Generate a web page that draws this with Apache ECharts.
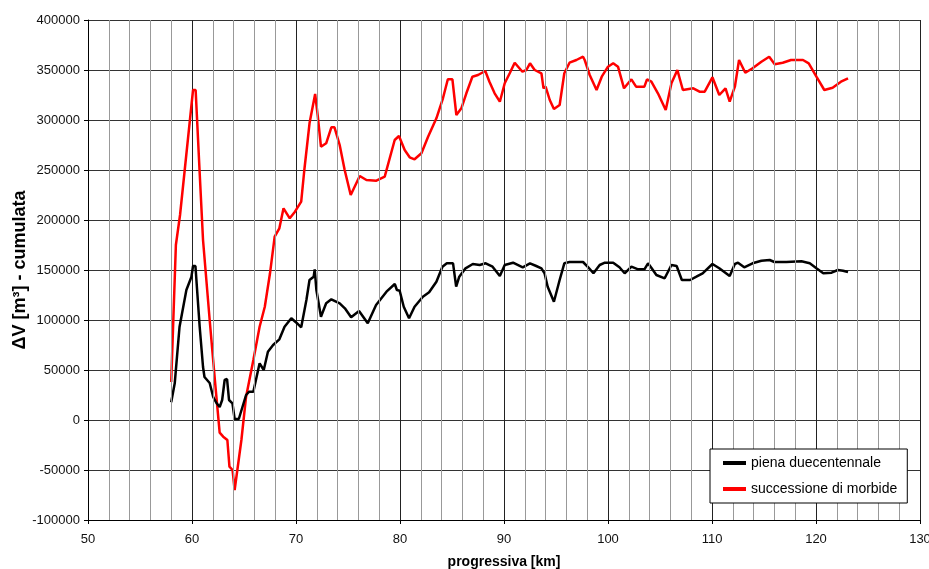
<!DOCTYPE html>
<html>
<head>
<meta charset="utf-8">
<script src="https://cdn.jsdelivr.net/npm/echarts@6/dist/echarts.min.js"></script>
<style>html,body{margin:0;padding:0;background:#fff;}#c{width:929px;height:569px;}</style>
</head>
<body>
<div id="c"></div>
<script>
var seriesNames = ['piena duecentennale', 'successione di morbide'];
var xTitle = 'progressiva [km]';
var yTitle = '\u0394V [m\u00B3] - cumulata';

var kmBlack = [58.0,58.34,58.8,59.46,59.94,60.1,60.33,60.74,61.06,61.2,61.7,62.04,62.35,62.66,62.9,63.14,63.37,63.56,63.89,64.1,64.5,65.2,65.5,65.9,66.5,66.9,67.3,67.8,68.4,68.9,69.55,70.04,70.5,71.0,71.3,71.7,71.8,71.96,72.4,72.9,73.4,74.2,74.7,75.3,76.06,76.9,77.7,78.7,79.5,79.7,79.97,80.36,80.87,81.4,82.2,82.8,83.5,84.08,84.5,85.1,85.4,85.7,86.3,87.0,87.66,88.24,88.9,89.6,90.07,90.87,91.8,92.5,93.1,93.6,93.9,94.2,94.8,95.35,95.8,96.3,97.6,98.1,98.6,99.2,99.7,100.5,101.1,101.6,102.25,102.9,103.5,103.85,104.2,104.65,105.45,106.1,106.6,107.1,107.9,108.5,109.1,110.04,110.7,111.7,112.2,112.5,113.1,113.9,114.75,115.55,116.0,117.15,118.6,119.4,120.04,120.7,121.5,122.1,122.6,123.08];
var valBlack = [17700,36700,93000,130000,143000,154000,154000,93000,53000,43000,37000,23000,17000,13000,20000,40000,41000,20000,16700,1000,1000,25000,28300,28300,56700,50000,68300,75000,80700,93300,101700,97300,92700,120000,140000,143300,150700,130000,103300,116700,120700,116700,111700,102700,109000,96700,115000,128300,136000,130000,129300,113300,101700,113300,123300,127700,138300,153300,156700,156700,133300,143300,151700,156000,155000,156700,153300,144000,155000,157300,152700,156700,154000,151700,146700,133300,118300,140000,156700,158000,158000,152700,146700,155000,157300,157300,152700,146700,153300,150700,150700,156700,151700,145000,141700,155000,154000,140000,140000,143300,146700,156000,151700,144000,156000,157300,152700,156700,159300,160000,158000,158000,158700,156700,151700,146700,147300,150000,149300,148000];

var kmRed = [58.0,58.45,58.85,59.3,59.8,60.1,60.35,60.74,61.06,61.7,62.2,62.66,63.0,63.4,63.6,63.9,64.1,64.75,65.2,65.9,66.5,67.0,67.5,67.95,68.4,68.8,69.4,69.9,70.5,70.8,71.3,71.84,72.1,72.4,72.9,73.4,73.7,74.2,74.68,75.26,76.13,76.77,77.73,78.53,79.49,79.9,80.45,80.93,81.4,82.06,82.7,83.5,84.13,84.6,85.04,85.42,85.9,86.38,86.96,87.5,88.2,88.6,89.1,89.6,90.07,90.55,91.03,91.77,92.15,92.5,92.95,93.6,93.8,94.0,94.4,94.8,95.35,95.8,96.3,96.96,97.6,97.76,98.24,98.9,99.4,100.0,100.5,100.96,101.54,102.25,102.7,103.5,103.75,104.17,104.8,105.55,106.1,106.67,107.2,108.2,108.8,109.3,110.04,110.7,111.3,111.7,112.2,112.6,113.2,113.9,114.75,115.5,116.03,116.8,117.6,118.75,119.3,120.04,120.8,121.6,122.4,123.08];
var valRed = [38000,175000,205000,250000,300000,330000,330000,246700,180000,100000,40000,-12700,-16700,-20000,-46700,-50000,-70000,-20000,23300,60000,93300,113300,146700,183300,191700,211700,201700,208300,218300,250000,296700,326000,303300,273300,276700,292700,292700,275000,250000,225000,244000,240000,239300,243300,280000,284000,270000,262700,260700,266700,283300,301700,321700,340700,340700,305000,311700,326700,343300,345000,349000,338300,326700,318300,336700,346700,357300,348300,350000,356700,350000,346700,331700,333300,320000,311000,315000,346700,357300,360000,363300,360000,345000,330000,343300,353300,356700,353300,331700,340700,333300,333300,340700,338300,326700,310000,336700,350000,330000,331700,328300,328300,342700,325000,331700,318300,333300,360000,347300,351700,358300,363300,355700,357300,360000,360000,356700,343300,330000,332300,338300,341700];

var xMin = 50, xMax = 130, xStep = 10;
var xMinorGrid = [52,54,56,58,62,64,66,68,72,74,76,78,82,84,86,88,92,94,96,98,102,104,106,108,112,114,116,118,122,124,126,128];
var yMin = -100000, yMax = 400000, yStep = 50000;

function pairs(xs, ys) { return xs.map(function (x, i) { return [x, ys[i]]; }); }

var font = 'Liberation Sans, Arial, sans-serif';
var chart = echarts.init(document.getElementById('c'), null, {renderer: 'canvas'});
chart.setOption({
  animation: false,
  backgroundColor: '#fff',
  grid: {left: 88, right: 9, top: 20, bottom: 49, containLabel: false, outerBoundsMode: 'none'},
  legend: {
    left: 710, top: 449, z: 20,
    orient: 'vertical',
    backgroundColor: '#fff', borderColor: '#000', borderWidth: 1,
    padding: [7, 10, 7, 13], itemGap: 12,
    itemWidth: 23, itemHeight: 4, icon: 'rect',
    textStyle: {fontFamily: font, fontSize: 14, color: '#000'},
    data: seriesNames
  },
  xAxis: {
    type: 'value', min: xMin, max: xMax, interval: xStep, z: 1,
    name: xTitle, nameLocation: 'middle', nameGap: 35,
    nameTextStyle: {fontFamily: font, fontSize: 14, fontWeight: 'bold', color: '#000'},
    axisLine: {show: true, onZero: false, lineStyle: {color: '#000', width: 1}},
    axisTick: {show: true, length: 4, lineStyle: {color: '#000'}},
    axisLabel: {fontFamily: font, fontSize: 13, color: '#111', margin: 13},
    splitLine: {show: true, lineStyle: {color: '#222', width: 1}},
    minorTick: {show: false},
    minorSplitLine: {show: false}
  },
  yAxis: {
    type: 'value', min: yMin, max: yMax, interval: yStep, z: 1,
    name: yTitle, nameLocation: 'middle', nameGap: 59, nameMoveOverlap: false,
    nameTextStyle: {fontFamily: font, fontSize: 18, fontWeight: 'bold', color: '#000'},
    axisLine: {show: true, onZero: false, lineStyle: {color: '#000', width: 1}},
    axisTick: {show: true, length: 4, lineStyle: {color: '#000'}},
    axisLabel: {fontFamily: font, fontSize: 13, color: '#111', margin: 8, formatter: function (v) { return String(v); }},
    splitLine: {show: true, lineStyle: {color: '#333', width: 1}},
    minorTick: {show: false},
    minorSplitLine: {show: false}
  },
  series: [
    {name: 'minor-grid', type: 'line', data: [], z: 1, silent: true,
     markLine: {silent: true, symbol: ['none', 'none'], animation: false,
       label: {show: false},
       lineStyle: {color: '#999', width: 1, type: 'solid'},
       data: xMinorGrid.map(function (v) { return {xAxis: v}; })}},
    {name: seriesNames[0], type: 'line', data: pairs(kmBlack, valBlack), showSymbol: false, symbol: 'none',
     lineStyle: {color: '#000', width: 2.5}, itemStyle: {color: '#000'}, z: 3},
    {name: seriesNames[1], type: 'line', data: pairs(kmRed, valRed), showSymbol: false, symbol: 'none',
     lineStyle: {color: '#f00', width: 2.5}, itemStyle: {color: '#f00'}, z: 2}
  ]
});
</script>
</body>
</html>
